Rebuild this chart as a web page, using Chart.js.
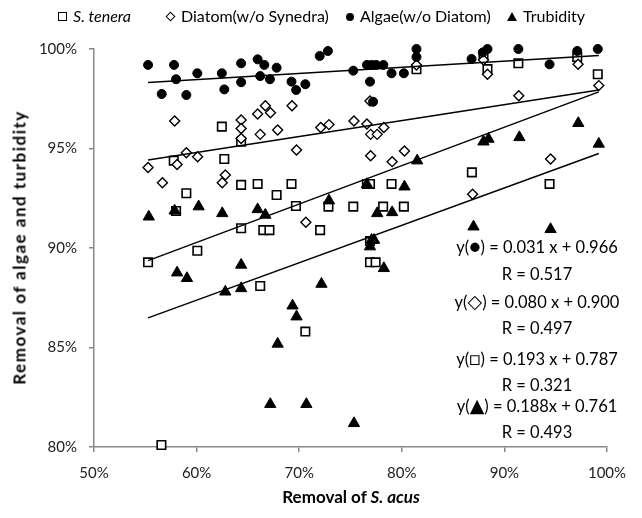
<!DOCTYPE html>
<html>
<head>
<meta charset="utf-8">
<script src="https://cdn.jsdelivr.net/npm/chart.js@4/dist/chart.umd.min.js"></script>
<style>
  body { margin: 0; background: #fff; }
  #wrap { position: relative; width: 642px; height: 518px; font-family: Lato, "DejaVu Sans", sans-serif; color: #000; }
  #myChart { position: absolute; left: 0; top: 0; }
  .item { position: absolute; top: 6px; font-size: 16px; white-space: nowrap; }
  .mk { display: inline-block; vertical-align: middle; margin-right: 6px; position: relative; top: -1px; }
  .mk.sq { width: 7px; height: 7px; border: 1.3px solid #000; background: #fff; }
  .mk.dm { width: 5px; height: 5px; border: 1.3px solid #000; background: #fff; transform: rotate(45deg); margin-right: 7px; }
  .mk.ci { width: 8px; height: 8px; border-radius: 50%; background: #000; }
  .mk.tr { width: 0; height: 0; border-left: 5px solid transparent; border-right: 5px solid transparent; border-bottom: 9px solid #000; }
  .ytitle { position: absolute; left: -181px; top: 237px; width: 400px; text-align: center; font-weight: bold; font-size: 17px; letter-spacing: 1.5px; transform: rotate(-90deg); }
  .xtitle { position: absolute; left: 151px; top: 486px; width: 400px; text-align: center; font-weight: bold; font-size: 17px; }
  .eq { position: absolute; left: 437px; width: 200px; height: 22px; line-height: 22px; text-align: center; font-size: 16.5px; white-space: nowrap; }
  .eq .s { font-size: 19px; }
</style>
</head>
<body>
<div id="wrap">
  <canvas id="myChart" width="642" height="518"></canvas>
  <div class="item" style="left:58px"><span class="mk sq"></span><i>S. tenera</i></div>
  <div class="item" style="left:167px"><span class="mk dm"></span>Diatom(w/o Synedra)</div>
  <div class="item" style="left:346px"><span class="mk ci"></span>Algae(w/o Diatom)</div>
  <div class="item" style="left:507px"><span class="mk tr"></span>Trubidity</div>
  <div class="ytitle">Removal of algae and turbidity</div>
  <div class="xtitle">Removal of <i>S. acus</i></div>
  <div class="eq" style="top:235px">y(<span class="s">●</span>) = 0.031 x + 0.966</div>
  <div class="eq" style="top:263px">R = 0.517</div>
  <div class="eq" style="top:290px">y(<span class="s">◇</span>) = 0.080 x + 0.900</div>
  <div class="eq" style="top:317px">R = 0.497</div>
  <div class="eq" style="top:347px">y(<span class="s">□</span>) = 0.193 x + 0.787</div>
  <div class="eq" style="top:374px">R = 0.321</div>
  <div class="eq" style="top:394px">y(<span class="s">▲</span>) = 0.188x + 0.761</div>
  <div class="eq" style="top:421px">R = 0.493</div>
</div>
<script>
// values in percent
var teneraX = [62.46, 57.77, 62.7, 64.34, 59.0, 64.34, 65.95, 69.25, 67.8, 76.6, 76.9, 79.0, 81.43, 87.96, 88.35, 91.36, 97.1, 99.1, 86.83, 94.4, 58.0, 64.34, 60.07, 55.27, 69.68, 72.85, 75.27, 78.18, 80.2, 66.5, 67.1, 72.04, 76.9, 76.9, 77.45, 66.2, 70.6, 56.57];
var teneraY = [96.1, 94.39, 94.47, 95.34, 92.75, 93.17, 93.22, 93.22, 92.66, 93.22, 93.22, 93.22, 98.98, 99.7, 98.99, 99.28, 99.6, 98.73, 93.8, 93.22, 91.86, 90.99, 89.86, 89.28, 92.11, 92.08, 92.08, 92.08, 92.08, 90.9, 90.9, 90.9, 90.35, 89.28, 89.28, 88.09, 85.8, 80.1];

var diatomX = [57.86, 55.27, 56.67, 58.1, 59.0, 60.1, 62.8, 62.5, 64.34, 64.34, 64.34, 65.95, 66.7, 67.2, 66.2, 67.9, 69.3, 69.74, 72.1, 72.9, 75.34, 76.6, 76.9, 76.96, 77.6, 78.25, 76.96, 79.06, 80.26, 81.43, 87.96, 88.35, 91.4, 97.18, 99.2, 94.5, 86.9, 70.65];
var diatomY = [96.38, 94.05, 93.28, 94.2, 94.79, 94.59, 93.67, 93.28, 96.43, 96.0, 95.5, 96.73, 97.15, 96.8, 95.71, 95.93, 97.15, 94.92, 96.06, 96.2, 96.38, 96.23, 97.39, 95.71, 95.71, 96.06, 94.64, 94.34, 94.87, 99.2, 99.45, 98.73, 97.65, 99.23, 98.16, 94.47, 92.7, 91.29];

var algaeX = [55.27, 57.8, 58.0, 60.07, 56.6, 59.0, 62.46, 62.7, 64.34, 64.34, 65.95, 66.6, 67.8, 66.2, 67.15, 69.25, 70.6, 69.7, 72.0, 72.8, 75.27, 76.6, 77.06, 77.5, 78.2, 76.9, 77.2, 79.0, 80.2, 81.43, 81.43, 86.8, 87.9, 88.35, 91.36, 94.4, 97.1, 99.1];
var algaeY = [99.2, 99.2, 98.48, 98.78, 97.74, 97.69, 98.78, 97.97, 99.28, 98.33, 99.48, 99.2, 99.06, 98.64, 98.48, 98.36, 98.23, 97.94, 99.65, 99.9, 98.91, 99.2, 99.2, 99.2, 99.2, 98.36, 97.35, 98.78, 98.78, 100, 99.6, 99.5, 99.83, 100, 100, 99.23, 99.9, 100];

var turbX = [81.5, 80.26, 76.6, 87.96, 88.45, 91.46, 97.2, 99.2, 55.34, 57.86, 60.2, 62.5, 58.1, 59.06, 64.34, 62.8, 64.34, 65.95, 66.7, 72.9, 77.6, 79.06, 77.06, 77.3, 76.9, 78.25, 72.17, 69.35, 69.74, 67.9, 67.18, 70.7, 75.34, 86.99, 94.5];
var turbY = [94.39, 93.08, 93.2, 95.34, 95.48, 95.56, 96.27, 95.23, 91.57, 91.87, 92.08, 91.74, 88.76, 88.48, 89.15, 87.8, 87.97, 91.94, 91.66, 92.38, 91.74, 91.79, 90.4, 90.4, 90.07, 88.98, 88.19, 87.1, 86.55, 85.18, 82.15, 82.15, 81.19, 91.07, 90.94];

// fitted lines shown in the picture: y = slope * x + intercept (fractions)
var lineNames = ['algae', 'diatom', 'tenera', 'turbidity'];
var lineSlope = [0.031, 0.080, 0.193, 0.188];
var lineIntercept = [0.966, 0.900, 0.787, 0.761];
var lineEnds = [55.27, 99.2];

var xTicks = [50, 60, 70, 80, 90, 100];
var yTicks = [80, 85, 90, 95, 100];

function pts(xs, ys) {
    return xs.map(function (x, i) { return { x: x, y: ys[i] }; });
}

function fitLine(i) {
    return lineEnds.map(function (x) {
        return { x: x, y: (lineSlope[i] * x / 100 + lineIntercept[i]) * 100 };
    });
}

var datasets = [
    { label: 'S. tenera', data: pts(teneraX, teneraY), pointStyle: 'rect', pointRadius: 6, backgroundColor: '#fff', borderColor: '#000', borderWidth: 1.6, order: 4 },
    { label: 'Diatom(w/o Synedra)', data: pts(diatomX, diatomY), pointStyle: 'rectRot', pointRadius: 5, backgroundColor: '#fff', borderColor: '#000', borderWidth: 1.4, order: 3 },
    { label: 'Algae(w/o Diatom)', data: pts(algaeX, algaeY), pointStyle: 'circle', pointRadius: 4.5, backgroundColor: '#000', borderColor: '#000', borderWidth: 1, order: 2 },
    { label: 'Trubidity', data: pts(turbX, turbY), pointStyle: 'triangle', pointRadius: 6.5, backgroundColor: '#000', borderColor: '#000', borderWidth: 1, order: 1 }
];

lineNames.forEach(function (name, i) {
    datasets.push({
        label: name + ' fit',
        data: fitLine(i),
        showLine: true,
        pointRadius: 0,
        borderColor: '#000',
        borderWidth: 1.5,
        fill: false,
        order: 0
    });
});

datasets.forEach(function (d) { d.clip = false; });

var ctx = document.getElementById('myChart').getContext('2d');

var chart = new Chart(ctx, {
    type: 'scatter',
    data: { datasets: datasets },
    options: {
        responsive: false,
        animation: false,
        layout: { padding: { top: 49, right: 35, left: 0, bottom: 0 } },
        plugins: {
            legend: { display: false },
            tooltip: { enabled: false }
        },
        scales: {
            x: {
                min: 50,
                max: 100,
                afterBuildTicks: function (scale) {
                    scale.ticks = xTicks.map(function (v) { return { value: v }; });
                },
                afterFit: function (scale) { scale.height = 71; },
                border: { color: '#888', width: 1.5 },
                grid: { drawOnChartArea: false, color: '#888', tickLength: 5, lineWidth: 1.5 },
                ticks: {
                    color: '#222',
                    padding: 12,
                    font: { family: 'Lato', size: 15 },
                    callback: function (v) { return v + '%'; }
                }
            },
            y: {
                min: 80,
                max: 100,
                afterBuildTicks: function (scale) {
                    scale.ticks = yTicks.map(function (v) { return { value: v }; });
                },
                afterFit: function (scale) { scale.width = 94; },
                border: { color: '#888', width: 1.5 },
                grid: { drawOnChartArea: false, color: '#888', tickLength: 5, lineWidth: 1.5 },
                ticks: {
                    color: '#222',
                    padding: 12,
                    font: { family: 'Lato', size: 15 },
                    callback: function (v) { return v + '%'; }
                }
            }
        }
    }
});
</script>
</body>
</html>
